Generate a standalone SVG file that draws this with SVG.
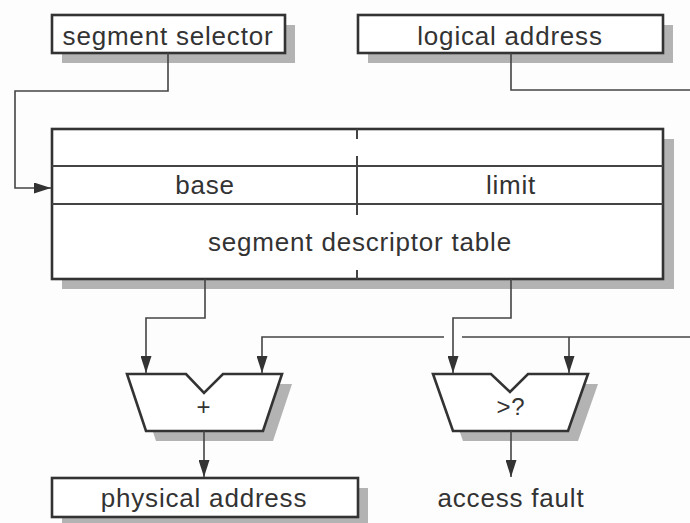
<svg xmlns="http://www.w3.org/2000/svg" width="690" height="523" viewBox="0 0 690 523">
<style>
.bg{fill:#fdfdfd}
.shadow{fill:#b3b3b3;stroke:none}
.box{fill:#ffffff;stroke:#333;stroke-width:2.6}
.inner{fill:none;stroke:#444;stroke-width:2}
.conn{fill:none;stroke:#444;stroke-width:1.6}
.t{font-family:"Liberation Sans",Arial,sans-serif;font-size:26px;fill:#333;text-anchor:middle;letter-spacing:0.8px}
</style>
<defs>
<marker id="arr" viewBox="0 0 17 11" refX="17" refY="5.5" markerWidth="17" markerHeight="11" markerUnits="userSpaceOnUse" orient="auto">
<path d="M0,0 L17,5.5 L0,11 Z" fill="#333"/>
</marker>
</defs>
<rect class="bg" x="0" y="0" width="690" height="523"/>

<g id="segment-selector">
<rect class="shadow" x="62" y="25" width="233" height="38"/>
<rect class="box" x="52" y="15" width="233" height="38"/>
<text class="t" x="168" y="45">segment selector</text>
</g>

<g id="logical-address">
<rect class="shadow" x="368" y="25" width="305" height="38"/>
<rect class="box" x="358" y="15" width="305" height="38"/>
<text class="t" x="510" y="45">logical address</text>
</g>

<g id="descriptor-table">
<rect class="shadow" x="62" y="139" width="612" height="150"/>
<rect class="box" x="52" y="129" width="611" height="150"/>
<line class="inner" x1="52" y1="166" x2="663" y2="166"/>
<line class="inner" x1="52" y1="204" x2="663" y2="204"/>
<line class="inner" x1="357" y1="129" x2="357" y2="139"/>
<line class="inner" x1="357" y1="156" x2="357" y2="215"/>
<line class="inner" x1="357" y1="270" x2="357" y2="279"/>
<text class="t" x="205" y="194">base</text>
<text class="t" x="511" y="194">limit</text>
<text class="t" x="360" y="251">segment descriptor table</text>
</g>

<g id="adder">
<path class="shadow" d="M137,384 L196,384 L214,403 L233,384 L292,384 L273,441 L156,441 Z"/>
<path class="box" d="M127,374 L186,374 L204,393 L223,374 L282,374 L263,431 L146,431 Z"/>
<text class="t" x="204" y="415" style="font-size:24px">+</text>
</g>

<g id="comparator">
<path class="shadow" d="M443,384 L501,384 L520,402 L538,384 L598,384 L578,441 L463,441 Z"/>
<path class="box" d="M433,374 L491,374 L510,392 L528,374 L588,374 L568,431 L453,431 Z"/>
<text class="t" x="511" y="415" style="font-size:24px">&gt;?</text>
</g>

<g id="physical-address">
<rect class="shadow" x="62" y="488" width="306" height="39"/>
<rect class="box" x="52" y="478" width="306" height="39"/>
<text class="t" x="204" y="507">physical address</text>
</g>

<g id="access-fault">
<text class="t" x="511" y="507">access fault</text>
</g>

<g id="connectors">
<polyline class="conn" points="168,53 168,91 15,91 15,188 51,188" marker-end="url(#arr)"/>
<polyline class="conn" points="511,53 511,90 690,90"/>
<polyline class="conn" points="205,279 205,318 146,318 146,373" marker-end="url(#arr)"/>
<polyline class="conn" points="511,279 511,318 453,318 453,373" marker-end="url(#arr)"/>
<polyline class="conn" points="444,337 262,337 262,373" marker-end="url(#arr)"/>
<line class="conn" x1="462" y1="337" x2="690" y2="337"/>
<line class="conn" x1="569" y1="337" x2="569" y2="373" marker-end="url(#arr)"/>
<line class="conn" x1="204" y1="431" x2="204" y2="477" marker-end="url(#arr)"/>
<line class="conn" x1="511" y1="431" x2="511" y2="477" marker-end="url(#arr)"/>
</g>
</svg>
